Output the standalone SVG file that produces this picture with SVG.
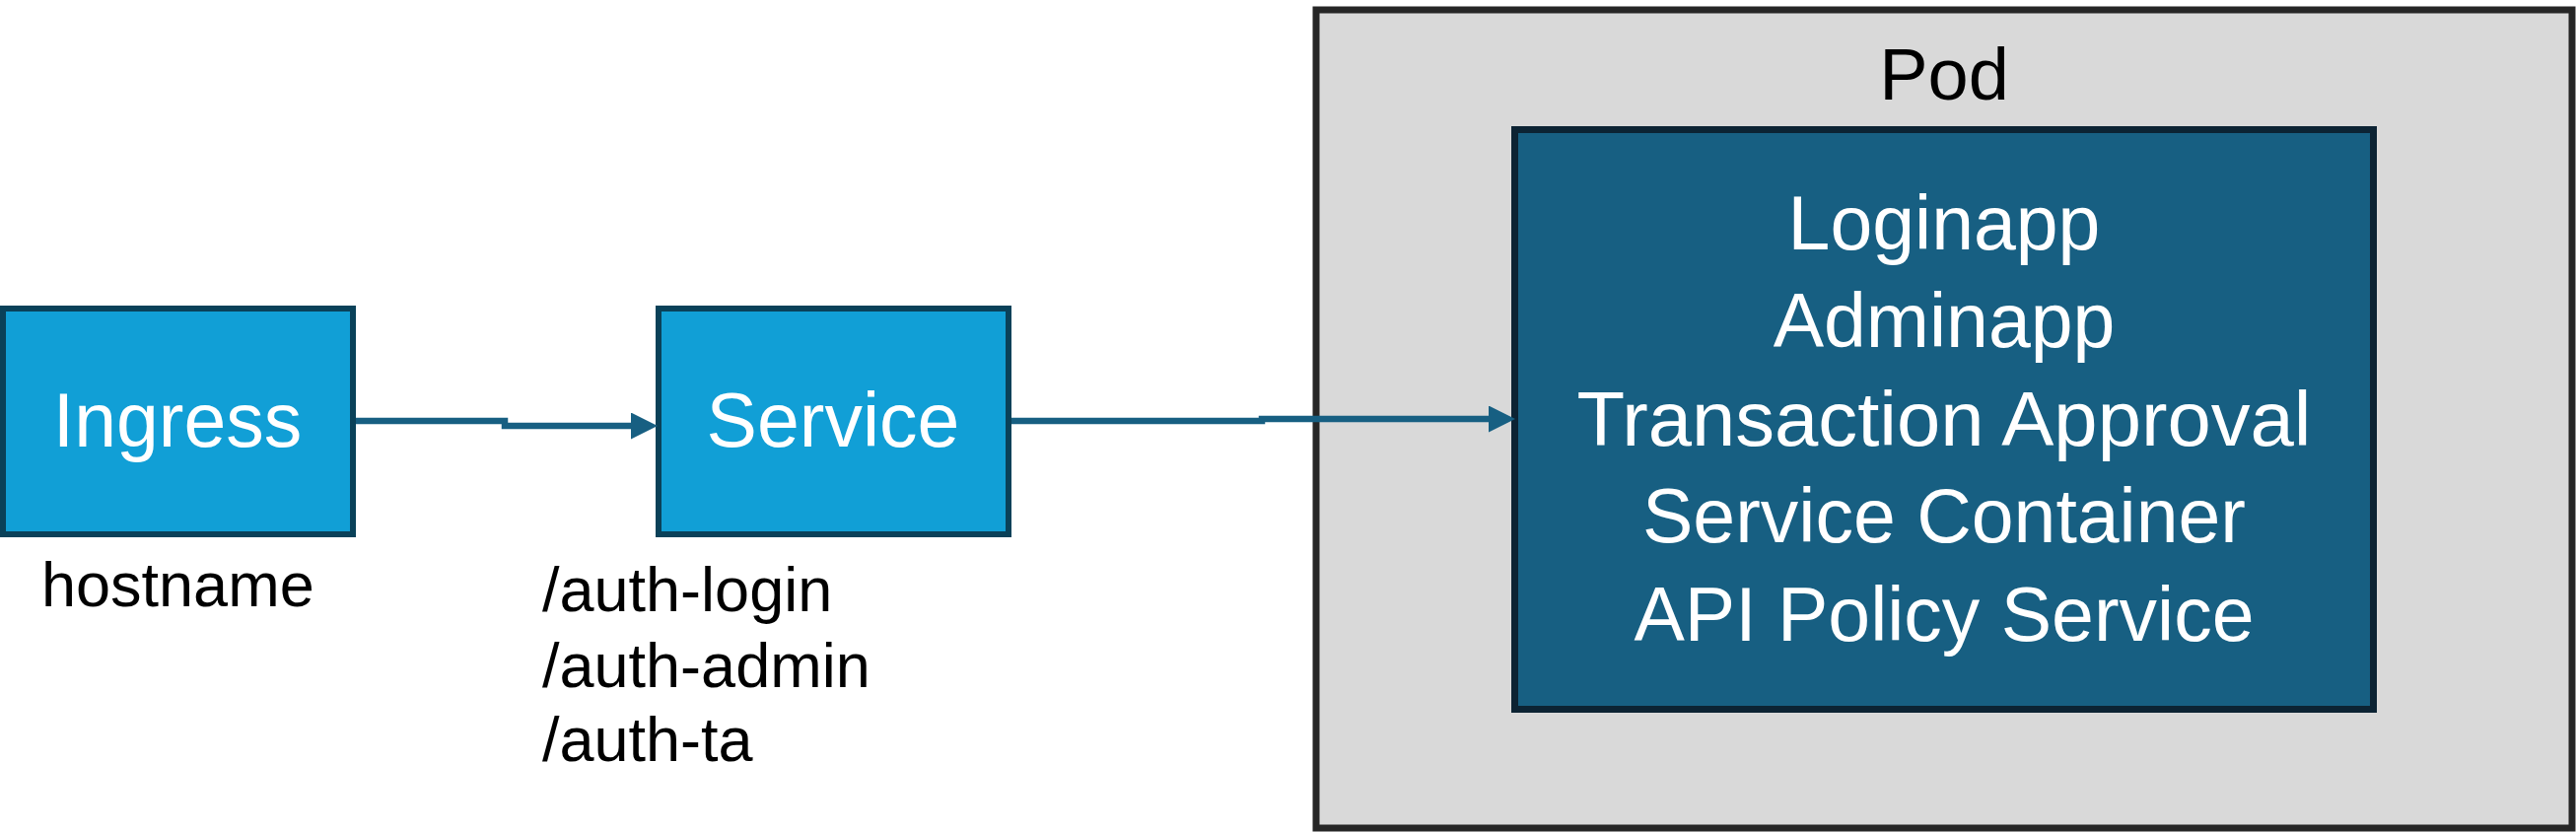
<svg xmlns="http://www.w3.org/2000/svg" width="2613" height="844" viewBox="0 0 2613 844">
  <style>
    .box { fill: #119fd6; stroke: #0a4159; stroke-width: 6; }
    .pod { fill: #d9d9d9; stroke: #262626; stroke-width: 7; }
    .inner { fill: #175f82; stroke: #0c2333; stroke-width: 7; }
    .conn { fill: none; stroke: #175f82; stroke-width: 6.5; }
    .t { font-family: "Liberation Sans", Arial, sans-serif; }
    .big { font-size: 77px; fill: #ffffff; text-anchor: middle; }
    .lbl { font-size: 63px; fill: #000000; }
    .podt { font-size: 74px; fill: #000000; text-anchor: middle; }
  </style>
  <defs>
    <marker id="arrow" markerUnits="userSpaceOnUse" markerWidth="28" markerHeight="28" refX="0" refY="13.5" orient="auto" viewBox="0 0 28 28">
      <path d="M0,0 L27,13.5 L0,27 Z" fill="#175f82"/>
    </marker>
  </defs>
  <rect width="2613" height="844" fill="#ffffff"/>

  <g id="pod">
    <rect class="pod" x="1335" y="10" width="1274" height="830"/>
    <text class="t podt" x="1972" y="101">Pod</text>
  </g>

  <g id="container">
    <rect class="inner" x="1536.5" y="131.5" width="871" height="588"/>
    <text class="t big" x="1972" y="253">Loginapp</text>
    <text class="t big" x="1972" y="352">Adminapp</text>
    <text class="t big" x="1972" y="452" textLength="745" lengthAdjust="spacingAndGlyphs">Transaction Approval</text>
    <text class="t big" x="1972" y="550">Service Container</text>
    <text class="t big" x="1972" y="650">API Policy Service</text>
  </g>

  <g id="ingress">
    <rect class="box" x="3" y="313" width="355" height="229"/>
    <text class="t big" x="180" y="453">Ingress</text>
    <text class="t lbl" x="42" y="615">hostname</text>
  </g>

  <g id="service">
    <rect class="box" x="668" y="313" width="355" height="229"/>
    <text class="t big" x="845" y="453">Service</text>
    <text class="t lbl" x="550" y="620">/auth-login</text>
    <text class="t lbl" x="550" y="697">/auth-admin</text>
    <text class="t lbl" x="550" y="772">/auth-ta</text>
  </g>

  <g id="connectors">
    <path class="conn" d="M361,427 H512 V432 H640" marker-end="url(#arrow)"/>
    <path class="conn" d="M1026,427 H1280 V425 H1510" marker-end="url(#arrow)"/>
  </g>
</svg>
